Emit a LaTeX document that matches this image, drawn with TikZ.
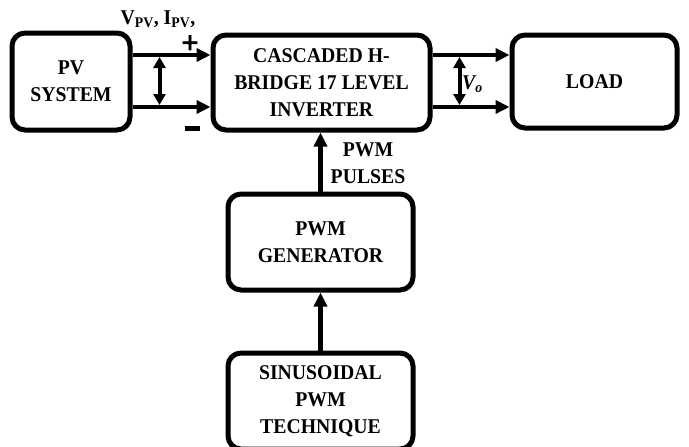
\documentclass[tikz,border=0pt]{standalone}
\usepackage{fontspec}
\setmainfont[FakeStretch=0.94]{Liberation Serif}
\newfontfamily\heavyfont[FakeBold=3]{Liberation Sans}
\usetikzlibrary{arrows.meta,calc}
\begin{document}
\begin{tikzpicture}[x=1pt,y=-1pt,
 blk/.style={draw, line width=5pt, rounded corners=13pt, align=center,
   font=\bfseries\fontsize{21}{27}\selectfont, inner sep=0pt},
 con/.style={line width=4.5pt, -{Triangle[length=14pt,width=13pt]}},
 dbl/.style={line width=4pt, {Triangle[length=11pt,width=12pt]}-{Triangle[length=11pt,width=12pt]}},
 lbl/.style={font=\bfseries\fontsize{21}{27}\selectfont, align=center, inner sep=0pt}]
\useasboundingbox[fill=white] (0,0) rectangle (689,447);
\node[blk, minimum width=118pt, minimum height=97pt] (pv) at (71,81.5) {PV\\SYSTEM};
\node[blk, minimum width=217pt, minimum height=95pt] (inv) at (321.5,82.5) {CASCADED H-\\BRIDGE 17 LEVEL\\INVERTER};
\node[blk, minimum width=165pt, minimum height=93pt] (load) at (594.5,81.5) {LOAD};
\node[blk, minimum width=185pt, minimum height=96pt] (gen) at (320.5,242) {PWM\\GENERATOR};
\node[blk, minimum width=185pt, minimum height=96pt] (sin) at (320.5,401) {SINUSOIDAL\\PWM\\TECHNIQUE};
% PV -> inverter
\coordinate (pt) at ([yshift=26.5pt]pv.east);
\coordinate (pb) at ([yshift=-25.5pt]pv.east);
\draw[con] (pt) -- (pt -| inv.west);
\draw[con] (pb) -- (pb -| inv.west);
\draw[dbl] ($(pt)+(27,2)$) -- ($(pb)+(27,-2)$);
% inverter -> load
\coordinate (ot) at ([yshift=27.5pt]inv.east);
\coordinate (ob) at ([yshift=-24.5pt]inv.east);
\draw[con] (ot) -- (ot -| load.west);
\draw[con] (ob) -- (ob -| load.west);
\draw[dbl] ($(ot)+(27,2)$) -- ($(ob)+(27,-2)$);
% vertical
\draw[con] (gen.north) -- (gen.north |- inv.south);
\draw[con] (sin.north) -- (sin.north |- gen.south);
% labels
\node[lbl, font=\bfseries\fontsize{21}{22}\selectfont] (vpv) at (158,19) {V\textsubscript{PV}, I\textsubscript{PV},};
\node[lbl, font=\heavyfont\fontsize{29}{29}\selectfont] (plus) at (190,44) {+};
\node[lbl] (minus) at (192,128) {\rule{15pt}{5pt}};
\node[lbl, anchor=west] (vo) at (462,84) {\textit{V\textsubscript{o}}};
\node[lbl] (pulses) at (368,163) {PWM\\PULSES};
\end{tikzpicture}
\end{document}
